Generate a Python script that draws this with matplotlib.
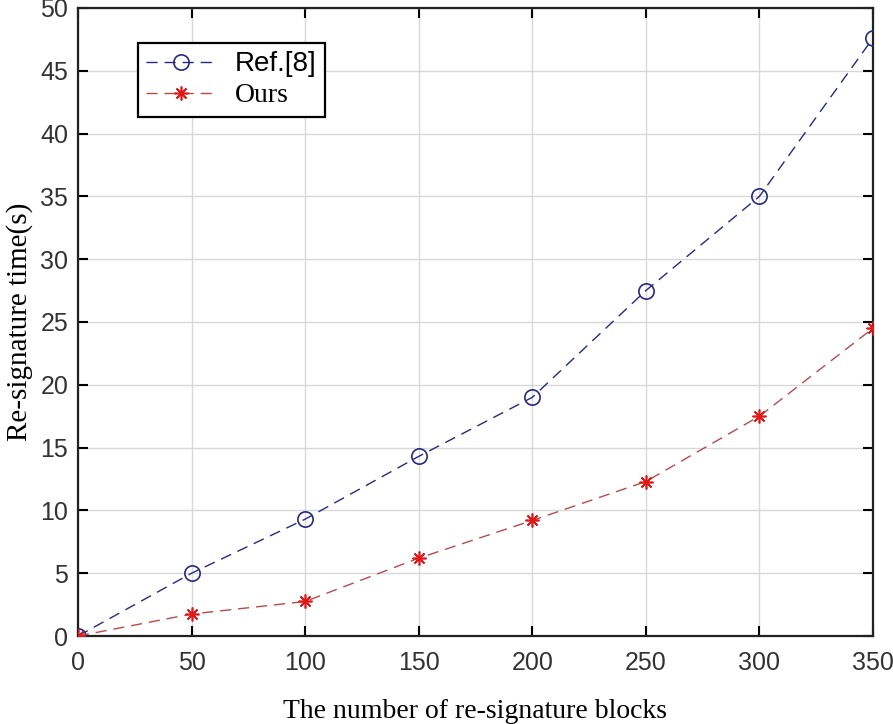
import matplotlib
matplotlib.use("Agg")
import matplotlib.pyplot as plt

# data
blocks = [0, 50, 100, 150, 200, 250, 300, 350]
ref8_time = [0, 5.0, 9.3, 14.3, 19.0, 27.5, 35.0, 47.6]
ours_time = [0, 1.75, 2.75, 6.2, 9.2, 12.3, 17.5, 24.5]
x_ticks = [0, 50, 100, 150, 200, 250, 300, 350]
y_ticks = [0, 5, 10, 15, 20, 25, 30, 35, 40, 45, 50]

fig = plt.figure(figsize=(8.93, 7.24), dpi=100)
ax = fig.add_axes([0.0873, 0.1215, 0.8903, 0.8675])

ax.plot(blocks, ref8_time, linestyle=(0, (8, 5)), color="#262a7e", linewidth=1.0,
        marker="o", markersize=11, markerfacecolor="none", markeredgecolor="#262a7e",
        markeredgewidth=1.2, label="Ref.[8]", zorder=3)
ax.plot(blocks, ours_time, linestyle=(0, (8, 5)), color="#b84a4a", linewidth=1.0,
        marker=(8, 2, 0), markersize=10, markeredgecolor="#e01818",
        markeredgewidth=1.2, label="Ours", zorder=3)

ax.set_xlim(0, 350)
ax.set_ylim(0, 50)
ax.set_xticks(x_ticks)
ax.set_yticks(y_ticks)
ax.grid(True, color="#d8d8d8", linewidth=1.0)
ax.set_axisbelow(True)

ax.tick_params(direction="in", length=7, width=1.5, top=True, right=True,
               labelsize=18)
ax.tick_params(axis="x", pad=11)
ax.tick_params(axis="y", pad=7)
for lab in ax.get_xticklabels() + ax.get_yticklabels():
    lab.set_family("Liberation Sans")
    lab.set_color("#333333")
for sp in ax.spines.values():
    sp.set_linewidth(1.6)
    sp.set_color("#222222")

ax.set_xlabel("The number of re-signature blocks", family="Liberation Serif",
              fontsize=20, labelpad=17)
ax.set_ylabel("Re-signature time(s)", family="Liberation Serif", fontsize=21)
ax.yaxis.set_label_coords(-0.057, 0.5)

leg = ax.legend(loc="upper left", bbox_to_anchor=(0.0755, 0.944),
                prop={"family": "Liberation Sans", "size": 20},
                frameon=True, fancybox=False, edgecolor="black", framealpha=1,
                handlelength=2.5, handletextpad=0.7, borderpad=0.3,
                labelspacing=0.2, borderaxespad=0)
leg.get_frame().set_linewidth(1.6)
leg.get_texts()[1].set_family("Liberation Serif")

fig.savefig("out.png", dpi=100)
